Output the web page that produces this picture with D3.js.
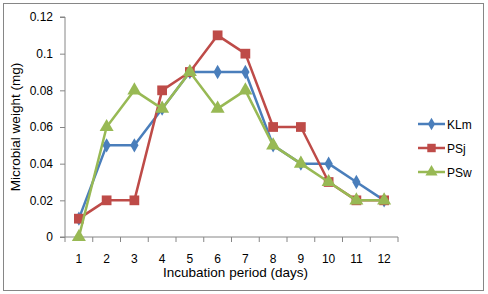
<!DOCTYPE html>
<meta charset="utf-8">
<script src="https://d3js.org/d3.v7.min.js"></script>
<style>
  body { margin: 0; background: #fff; }
  text { font-family: "Liberation Sans", Arial, sans-serif; fill: #000; }
</style>
<div id="chart"></div>
<script>

// data
const days = ["1", "2", "3", "4", "5", "6", "7", "8", "9", "10", "11", "12"];
const klm = [0.01, 0.05, 0.05, 0.07, 0.09, 0.09, 0.09, 0.05, 0.04, 0.04, 0.03, 0.02];
const psj = [0.01, 0.02, 0.02, 0.08, 0.09, 0.11, 0.10, 0.06, 0.06, 0.03, 0.02, 0.02];
const psw = [0, 0.06, 0.08, 0.07, 0.09, 0.07, 0.08, 0.05, 0.04, 0.03, 0.02, 0.02];
const seriesNames = ["KLm", "PSj", "PSw"];
const yTicks = [0, 0.02, 0.04, 0.06, 0.08, 0.1, 0.12];

const W = 488, H = 294;
const margin = {top: 17, right: 90, bottom: 57, left: 65};
const width = 398 - margin.left,
  height = 237 - margin.top;

const svg = d3.select("#chart")
  .append("svg")
  .attr("width", W)
  .attr("height", H);

// outer frame
svg.append("rect")
  .attr("x", 3.5).attr("y", 3.5)
  .attr("width", 480).attr("height", 287)
  .attr("fill", "#fff")
  .attr("stroke", "#868686");

const g = svg.append("g")
  .attr("transform", `translate(${margin.left},${margin.top})`);

const x = d3.scaleBand().domain(days).range([0, width]);
const y = d3.scaleLinear().domain([0, 0.12]).range([height, 0]);

// x axis, ticks between categories
const xAxis = g.append("g")
  .attr("transform", `translate(0,${height})`);
xAxis.append("line")
  .attr("x1", 0).attr("x2", width)
  .attr("stroke", "#868686");
xAxis.selectAll(".tk")
  .data(d3.range(days.length + 1))
  .join("line")
  .attr("x1", i => i * x.step()).attr("x2", i => i * x.step())
  .attr("y1", 0).attr("y2", 5)
  .attr("stroke", "#868686");
xAxis.selectAll(".lbl")
  .data(days)
  .join("text")
  .attr("x", d => x(d) + x.bandwidth() / 2)
  .attr("y", 26)
  .attr("text-anchor", "middle")
  .style("font-size", "12px")
  .text(d => d);

// y axis
const yAxis = g.append("g")
  .call(d3.axisLeft(y).tickValues(yTicks).tickSize(5).tickPadding(7)
    .tickFormat(d => d === 0 ? "0" : String(+d.toFixed(2))));
yAxis.select(".domain").attr("stroke", "#868686").attr("d", `M-5,${height}H0V0H-5`);
yAxis.selectAll(".tick line").attr("stroke", "#868686");
yAxis.selectAll(".tick text").style("font-size", "12px").style("font-family", "Liberation Sans, Arial, sans-serif");

// axis titles
g.append("text")
  .attr("x", width / 2 + 4)
  .attr("y", height + 40)
  .attr("text-anchor", "middle")
  .style("font-size", "13.5px")
  .text("Incubation period (days)");

g.append("text")
  .attr("transform", "rotate(-90)")
  .attr("x", -(127 - margin.top))
  .attr("y", -45)
  .attr("text-anchor", "middle")
  .style("font-size", "13.5px")
  .text("Microbial weight (mg)");

const colors = ["#4A7EBB", "#BE4B48", "#98B954"];
const allSeries = [klm, psj, psw];
const shapes = [d3.symbolDiamond, d3.symbolSquare, d3.symbolTriangle];
const sizes = [60, 95, 85];

const line = d3.line()
  .x((d, i) => x(days[i]) + x.bandwidth() / 2)
  .y(d => y(d));

allSeries.forEach((vals, s) => {
  g.append("path")
    .datum(vals)
    .attr("fill", "none")
    .attr("stroke", colors[s])
    .attr("stroke-width", 2.5)
    .attr("stroke-linejoin", "round")
    .attr("d", line);
  g.selectAll(".m" + s)
    .data(vals)
    .join("path")
    .attr("transform", (d, i) => `translate(${x(days[i]) + x.bandwidth() / 2},${y(d)})`)
    .attr("d", d3.symbol().type(shapes[s]).size(sizes[s]))
    .attr("fill", colors[s]);
});

// legend
const legend = svg.append("g").attr("transform", "translate(418,124)");
seriesNames.forEach((name, s) => {
  const row = legend.append("g").attr("transform", `translate(0,${s * 24})`);
  row.append("line")
    .attr("x1", 0).attr("x2", 27)
    .attr("stroke", colors[s]).attr("stroke-width", 2.5);
  row.append("path")
    .attr("transform", "translate(13.5,0)")
    .attr("d", d3.symbol().type(shapes[s]).size(sizes[s] * 0.75))
    .attr("fill", colors[s]);
  row.append("text")
    .attr("x", 29).attr("y", 4.5)
    .style("font-size", "12px")
    .text(name);
});
</script>
